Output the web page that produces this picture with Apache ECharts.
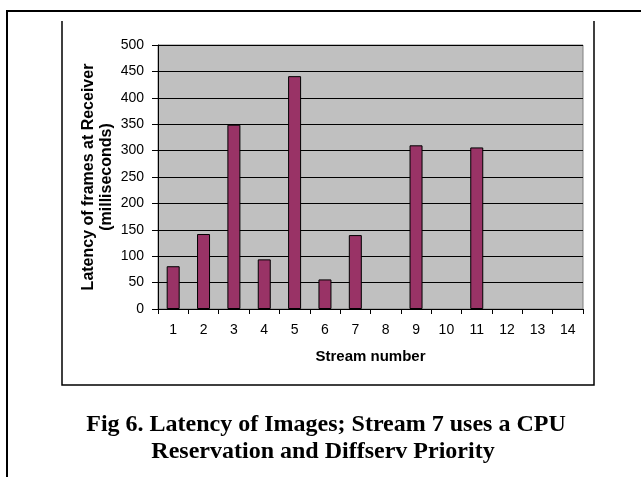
<!DOCTYPE html>
<html>
<head>
<meta charset="utf-8">
<script src="https://cdn.jsdelivr.net/npm/echarts@6/dist/echarts.min.js"></script>
<style>
    html, body { margin: 0; padding: 0; background: #fff; }
    #e-main { width: 641px; height: 477px; }
</style>
</head>
<body>
<div id="e-main"></div>
<script>
// stream numbers on x axis
var streams = ['1', '2', '3', '4', '5', '6', '7', '8', '9', '10', '11', '12', '13', '14'];
// latency values (ms), empty streams have no bar
var latency = [81, 142, 349, 94, 441, 56, 140, null, 310, null, 306, null, null, null];
var yTicks = {min: 0, max: 500, step: 50};

var captionLines = ['Fig 6. Latency of Images; Stream 7 uses a CPU', 'Reservation and Diffserv Priority'];

var myChart = echarts.init(document.getElementById('e-main'));

var sans = '"Liberation Sans", Arial, sans-serif';
var serif = '"Liberation Serif", "Times New Roman", serif';

var option = {
    animation: false,
    grid: {
        left: 158,
        right: 58,
        top: 45,
        bottom: 168,
        show: true,
        backgroundColor: '#c0c0c0',
        borderColor: '#808080',
        borderWidth: 1
    },
    xAxis: {
        type: 'category',
        data: streams,
        name: 'Stream number',
        nameLocation: 'middle',
        nameGap: 40,
        nameMoveOverlap: false,
        nameTextStyle: {fontFamily: sans, fontWeight: 'bold', fontSize: 15, color: '#000'},
        axisLine: {lineStyle: {color: '#000', width: 1}},
        axisTick: {show: true, length: 5, lineStyle: {color: '#000'}},
        axisLabel: {fontFamily: sans, fontSize: 14, color: '#000', margin: 14}
    },
    yAxis: {
        type: 'value',
        min: yTicks.min,
        max: yTicks.max,
        interval: yTicks.step,
        name: 'Latency of frames at Receiver\n(milliseconds)',
        nameLocation: 'middle',
        nameRotate: 90,
        nameGap: 42,
        nameMoveOverlap: false,
        nameTextStyle: {fontFamily: sans, fontWeight: 'bold', fontSize: 16, color: '#000', lineHeight: 18},
        axisLine: {show: true, lineStyle: {color: '#000', width: 1}},
        axisTick: {show: true, length: 6, lineStyle: {color: '#000'}},
        axisLabel: {fontFamily: sans, fontSize: 14, color: '#000', margin: 14},
        splitLine: {show: true, lineStyle: {color: '#000', width: 1}}
    },
    series: [
        {
            type: 'bar',
            data: latency,
            barWidth: 13,
            itemStyle: {color: '#993366', borderColor: '#000', borderWidth: 1}
        }
    ],
    graphic: [
        // outer page frame
        {type: 'line', shape: {x1: 7, y1: 11, x2: 641, y2: 11}, style: {stroke: '#000', lineWidth: 2}},
        {type: 'line', shape: {x1: 7, y1: 10, x2: 7, y2: 477}, style: {stroke: '#000', lineWidth: 2}},
        // chart object frame
        {type: 'polyline', shape: {points: [[62, 21], [62, 385], [594, 385], [594, 21]]},
            style: {stroke: '#000', lineWidth: 1.5, fill: null}},
        // caption
        {type: 'text', x: 326, y: 425, style: {text: captionLines[0], fontFamily: serif,
            fontWeight: 'bold', fontSize: 24, fill: '#000', align: 'center', verticalAlign: 'middle'}},
        {type: 'text', x: 323, y: 452, style: {text: captionLines[1], fontFamily: serif,
            fontWeight: 'bold', fontSize: 24, fill: '#000', align: 'center', verticalAlign: 'middle'}}
    ]
};

myChart.setOption(option);
</script>
</body>
</html>
